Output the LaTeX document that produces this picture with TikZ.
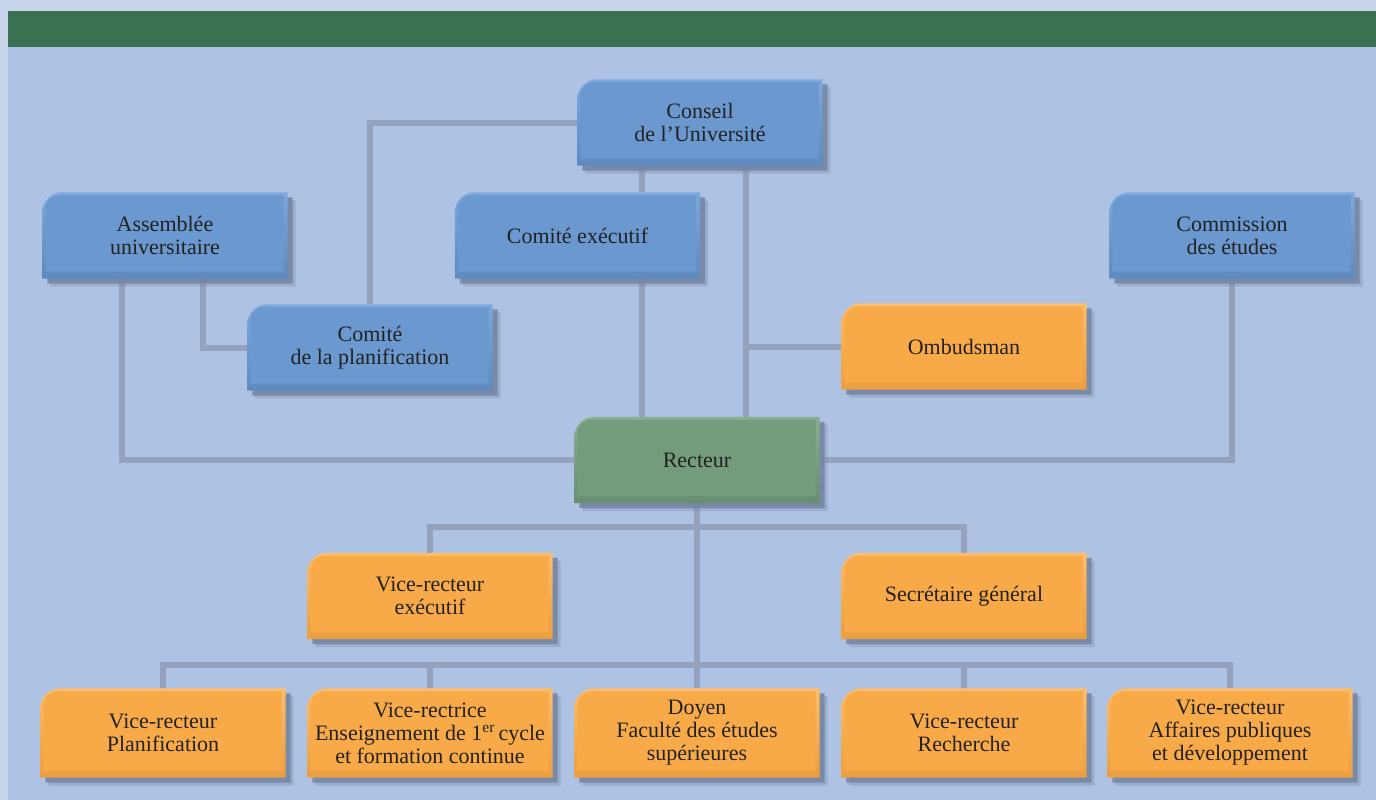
\documentclass[tikz,border=0pt]{standalone}
\usepackage{fontspec}
\setmainfont{Liberation Serif}
\pgfdeclarelayer{bglayer}
\pgfdeclarelayer{linelayer}
\pgfdeclarelayer{boxlayer}
\pgfsetlayers{bglayer,linelayer,boxlayer,main}
\definecolor{framec}{HTML}{C8D4EA}
\definecolor{bgc}{HTML}{AEC3E3}
\definecolor{barc}{HTML}{3A7150}
\definecolor{linec}{HTML}{95A2BD}
\definecolor{shadowc}{HTML}{7484A2}
\definecolor{txt}{HTML}{222222}
\definecolor{blueA}{HTML}{7DA8DC}
\definecolor{blueB}{HTML}{6A98CF}
\definecolor{blueC}{HTML}{5F8AC0}
\definecolor{orA}{HTML}{FCBD6C}
\definecolor{orB}{HTML}{F8AA48}
\definecolor{orC}{HTML}{EB9E40}
\definecolor{grA}{HTML}{8AAE90}
\definecolor{grB}{HTML}{749B7C}
\definecolor{grC}{HTML}{678E70}
\tikzset{
  box/.style={minimum width=245pt, minimum height=86pt, inner sep=0pt, align=center,
    font=\fontsize{22}{23}\selectfont, text=txt},
  tall/.style={minimum height=89pt},
  conn/.style={line width=6pt, draw=linec},
}
\newcommand{\tabshape}[2]{%
  ([shift={#2}]#1.south west) -- ([shift={#2},yshift=-20pt]#1.north west)
  arc[start angle=180, end angle=90, radius=20pt]
  -- ([shift={#2}]#1.north east) -- ([shift={#2}]#1.south east) -- cycle}
\begin{document}
\begin{tikzpicture}[x=1pt,y=-1pt]
\begin{pgfonlayer}{bglayer}
\fill[framec] (0,0) rectangle (1376,800);
\fill[bgc] (8,11) rectangle (1376,800);
\fill[barc] (8,11) rectangle (1376,47);
\end{pgfonlayer}

\node[box] (conseil) at (700,122.5) {Conseil\\de l’Université};
\node[box] (assemblee) at (165,235.5) {Assemblée\\universitaire};
\node[box] (comexec) at (577.5,235.5) {Comité exécutif};
\node[box] (commission) at (1232,235.5) {Commission\\des études};
\node[box] (complan) at (370,347.5) {Comité\\de la planification};
\node[box] (ombud) at (964,346.5) {Ombudsman};
\node[box] (recteur) at (697,460) {Recteur};
\node[box] (vre) at (430,596) {Vice-recteur\\exécutif};
\node[box] (sg) at (964,596) {Secrétaire général};
\node[box,tall] (vrp) at (163,733) {Vice-recteur\\Planification};
\node[box,tall] (vrt) at (430,733) {Vice-rectrice\\Enseignement de 1\textsuperscript{er}\,cycle\\et formation continue};
\node[box,tall] (doyen) at (697,733) {Doyen\\Faculté des études\\supérieures};
\node[box,tall] (vrr) at (964,733) {Vice-recteur\\Recherche};
\node[box,tall] (vra) at (1230,733) {Vice-recteur\\Affaires publiques\\et développement};

\begin{pgfonlayer}{linelayer}
\draw[conn] (conseil.west) -| (complan.north);
\draw[conn] ([xshift=-58pt]conseil.south) -- ([xshift=-58pt]conseil.south |- comexec.north);
\draw[conn] ([xshift=64.5pt]comexec.south) -- ([xshift=64.5pt]comexec.south |- recteur.north);
\draw[conn] ([xshift=46pt]conseil.south) -- ([xshift=46pt]conseil.south |- recteur.north);
\draw[conn] (ombud.west) -- ([xshift=46pt]conseil.south |- ombud.west);
\draw[conn] ([xshift=-43pt]assemblee.south) |- (recteur.west);
\draw[conn] ([xshift=38pt]assemblee.south) |- (complan.west);
\draw[conn] (commission.south) |- (recteur.east);
\draw[conn] (recteur.south) -- (doyen.north);
\draw[conn] (vre.north) -- ++(0,-26) -| (sg.north);
\draw[conn] (vrp.north) -- ++(0,-23) -| (vra.north);
\draw[conn] (vrt.north) -- ++(0,-23);
\draw[conn] (vrr.north) -- ++(0,-23);
\end{pgfonlayer}

\begin{pgfonlayer}{boxlayer}
\foreach \n/\a/\b/\c in {conseil/blueA/blueB/blueC, assemblee/blueA/blueB/blueC,
  comexec/blueA/blueB/blueC, commission/blueA/blueB/blueC, complan/blueA/blueB/blueC,
  ombud/orA/orB/orC, recteur/grA/grB/grC, vre/orA/orB/orC, sg/orA/orB/orC,
  vrp/orA/orB/orC, vrt/orA/orB/orC, doyen/orA/orB/orC, vrr/orA/orB/orC, vra/orA/orB/orC}{
  \fill[shadowc, opacity=.35] \tabshape{\n}{(8,8)};
  \fill[shadowc, opacity=.85] \tabshape{\n}{(5,5)};
  \shade[top color=\a, middle color=\b, bottom color=\c] \tabshape{\n}{(0,0)};
  \fill[\b] ([shift={(3,-7)}]\n.south west) -- ([shift={(3,17)}]\n.north west)
    arc[start angle=180, end angle=90, radius=14pt] -- ([shift={(-4,3)}]\n.north east)
    -- ([shift={(-4,-7)}]\n.south east) -- cycle;
}
\end{pgfonlayer}
\end{tikzpicture}
\end{document}
